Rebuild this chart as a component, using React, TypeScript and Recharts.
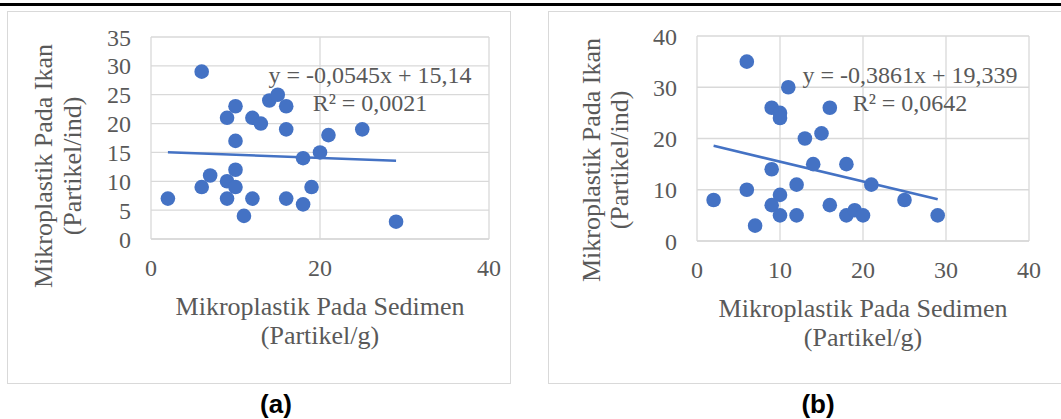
import { ScatterChart, Scatter, XAxis, YAxis, CartesianGrid, ReferenceLine } from "recharts";

// (a) sediment vs fish
const sedimenA = [6, 2, 6, 7, 9, 9, 10, 10, 10, 9, 10, 11, 12, 12, 13, 14, 15, 16, 16, 16, 18, 18, 19, 20, 21, 25, 29];
const ikanA = [29, 7, 9, 11, 7, 10, 9, 12, 17, 21, 23, 4, 7, 21, 20, 24, 25, 23, 19, 7, 14, 6, 9, 15, 18, 19, 3];

// (b)
const sedimenB = [6, 11, 9, 10, 10, 16, 13, 15, 9, 14, 18, 2, 6, 12, 21, 10, 9, 16, 7, 10, 12, 18, 19, 20, 25, 29];
const ikanB = [35, 30, 26, 25, 24, 26, 20, 21, 14, 15, 15, 8, 10, 11, 11, 9, 7, 7, 3, 5, 5, 5, 6, 5, 8, 5];

// trend line end points (x from min to max)
const trendX = [2, 29];
const trendYA = [15.03, 13.56];
const trendYB = [18.57, 8.14];

const xTicksA = [0, 20, 40];
const yTicksA = [0, 5, 10, 15, 20, 25, 30, 35];
const xTicksB = [0, 10, 20, 30, 40];
const yTicksB = [0, 10, 20, 30, 40];

const eqA = ["y = -0,0545x + 15,14", "R² = 0,0021"];
const eqB = ["y = -0,3861x + 19,339", "R² = 0,0642"];

const BLUE = "#4472C4";
const GRID = "#d9d9d9";
const TXT = "#595959";
const SERIF = "'Liberation Serif', 'Times New Roman', serif";

const dataA = sedimenA.map((x, i) => ({ x, y: ikanA[i] }));
const dataB = sedimenB.map((x, i) => ({ x, y: ikanB[i] }));

const dot = (p: any) => <circle cx={p.cx} cy={p.cy} r={7.3} fill={BLUE} />;

const xTitle = (props: any) => {
  const vb = props.viewBox;
  const cx = vb.x + vb.width / 2;
  return (
    <text textAnchor="middle" fontFamily={SERIF} fontSize={26} fill={TXT}>
      <tspan x={cx} y={vb.y + 76}>Mikroplastik Pada Sedimen</tspan>
      <tspan x={cx} y={vb.y + 105}>(Partikel/g)</tspan>
    </text>
  );
};

const yTitle = (x1: number, x2: number, cy: number) => () => (
  <g fontFamily={SERIF} fontSize={26} fill={TXT}>
    <text x={x1} y={cy} textAnchor="middle" transform={`rotate(-90, ${x1}, ${cy})`}>
      Mikroplastik Pada Ikan
    </text>
    <text x={x2} y={cy} textAnchor="middle" transform={`rotate(-90, ${x2}, ${cy})`}>
      (Partikel/ind)
    </text>
  </g>
);

function Panel(props: any) {
  const { data, xTicks, yTicks, trendY, width, margin, title } = props;
  const tick = { fontFamily: SERIF, fontSize: 24, fill: TXT };
  return (
    <ScatterChart width={width} height={419} margin={margin}>
      <CartesianGrid stroke={GRID} strokeWidth={1.3} />
      <XAxis
        type="number"
        dataKey="x"
        domain={[xTicks[0], xTicks[xTicks.length - 1]]}
        ticks={xTicks}
        interval={0}
        height={30}
        tickSize={0}
        tickMargin={20}
        tickLine={false}
        axisLine={{ stroke: GRID, strokeWidth: 1.3 }}
        tick={tick}
        label={{ content: xTitle }}
      />
      <YAxis
        type="number"
        dataKey="y"
        domain={[yTicks[0], yTicks[yTicks.length - 1]]}
        ticks={yTicks}
        interval={0}
        width={60}
        tickSize={0}
        tickMargin={20}
        tickLine={false}
        axisLine={false}
        tick={tick}
        label={{ content: title }}
      />
      <Scatter data={data} shape={dot} isAnimationActive={false} />
      <ReferenceLine
        segment={[
          { x: trendX[0], y: trendY[0] },
          { x: trendX[1], y: trendY[1] },
        ]}
        stroke={BLUE}
        strokeWidth={2.6}
        ifOverflow="visible"
      />
    </ScatterChart>
  );
}

const eqStyle: any = {
  position: "absolute",
  top: 61,
  width: 260,
  textAlign: "center",
  fontFamily: SERIF,
  fontSize: 24,
  lineHeight: "28px",
  color: TXT,
  whiteSpace: "nowrap",
};

const capStyle: any = {
  position: "absolute",
  top: 389,
  width: 100,
  textAlign: "center",
  fontFamily: "'Liberation Sans', Arial, sans-serif",
  fontWeight: "bold",
  fontSize: 26,
  lineHeight: "30px",
  color: "#000",
};

export default function App() {
  return (
    <div style={{ position: "absolute", left: 0, top: 0, width: 1061, height: 419, overflow: "hidden", background: "#fff" }}>
      <div style={{ position: "absolute", left: 0, top: 3, width: 1061, height: 3, background: "#000" }} />
      <div style={{ position: "absolute", left: 7, top: 11, width: 504, height: 373, border: `1.5px solid ${GRID}`, boxSizing: "border-box" }} />
      <div style={{ position: "absolute", left: 548, top: 11, width: 530, height: 373, border: `1.5px solid ${GRID}`, boxSizing: "border-box" }} />

      <div style={{ position: "absolute", left: 0, top: 0 }}>
        <Panel
          data={dataA}
          xTicks={xTicksA}
          yTicks={yTicksA}
          trendY={trendYA}
          width={540}
          margin={{ top: 37, right: 51, bottom: 150, left: 91 }}
          title={yTitle(52, 81, 166)}
        />
      </div>
      <div style={{ position: "absolute", left: 540, top: 0 }}>
        <Panel
          data={dataB}
          xTicks={xTicksB}
          yTicks={yTicksB}
          trendY={trendYB}
          width={521}
          margin={{ top: 36, right: 32, bottom: 148, left: 97 }}
          title={yTitle(60, 88, 160)}
        />
      </div>

      <div style={{ ...eqStyle, left: 240 }}>
        {eqA[0]}
        <br />
        {eqA[1]}
      </div>
      <div style={{ ...eqStyle, left: 780 }}>
        {eqB[0]}
        <br />
        {eqB[1]}
      </div>

      <div style={{ ...capStyle, left: 226 }}>(a)</div>
      <div style={{ ...capStyle, left: 768 }}>(b)</div>
    </div>
  );
}
